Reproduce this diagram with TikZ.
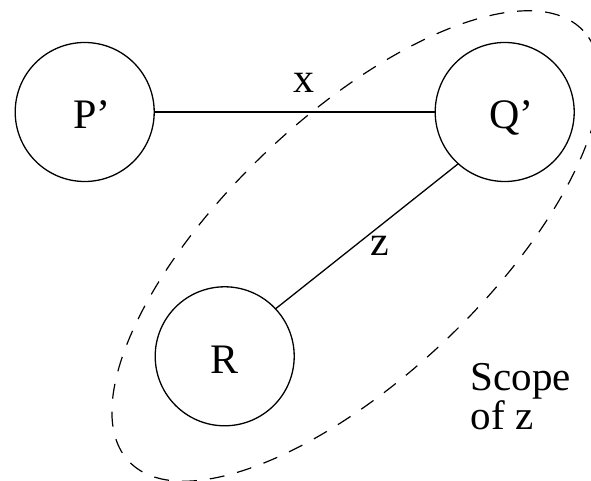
\documentclass[tikz,border=0pt]{standalone}
\usepackage{fontspec}
\setmainfont{Liberation Serif}
\begin{document}
\begin{tikzpicture}[x=1pt,y=1pt,line width=1.3pt,
  vertex/.style={circle,draw,minimum size=139pt,inner sep=0pt,
    font=\fontsize{42}{42}\selectfont,text height=34pt,text depth=0pt},
  edgelabel/.style={inner sep=0pt,font=\fontsize{42}{42}\selectfont},
  scopeline/.style={line width=1.2pt,dash pattern=on 15pt off 13pt},
  scopetext/.style={inner sep=0pt,align=left,
    font=\fontsize{41}{36}\selectfont}]
\useasboundingbox (0,0) rectangle (591,481);
% nodes
\node[vertex] (P) at (84.7,369) {P\rlap{’}};
\node[vertex] (Q) at (504.7,369) {Q\rlap{’}};
\node[vertex] (R) at (224.7,124.7) {R};
% connectors
\draw (P) -- (Q);
\draw (Q.228.8) -- (R.43.6);
% labels
\node[edgelabel] (lx) at (304,398.5) {x};
\node[edgelabel] (lz) at (380.3,235.2) {z};
% scope
\draw[scopeline,rotate around={43.5:(356,235)}] (356,235) ellipse [x radius=313,y radius=130];
\node[scopetext,anchor=north west] (scope) at (470,118) {Scope\\of z};
\end{tikzpicture}
\end{document}
